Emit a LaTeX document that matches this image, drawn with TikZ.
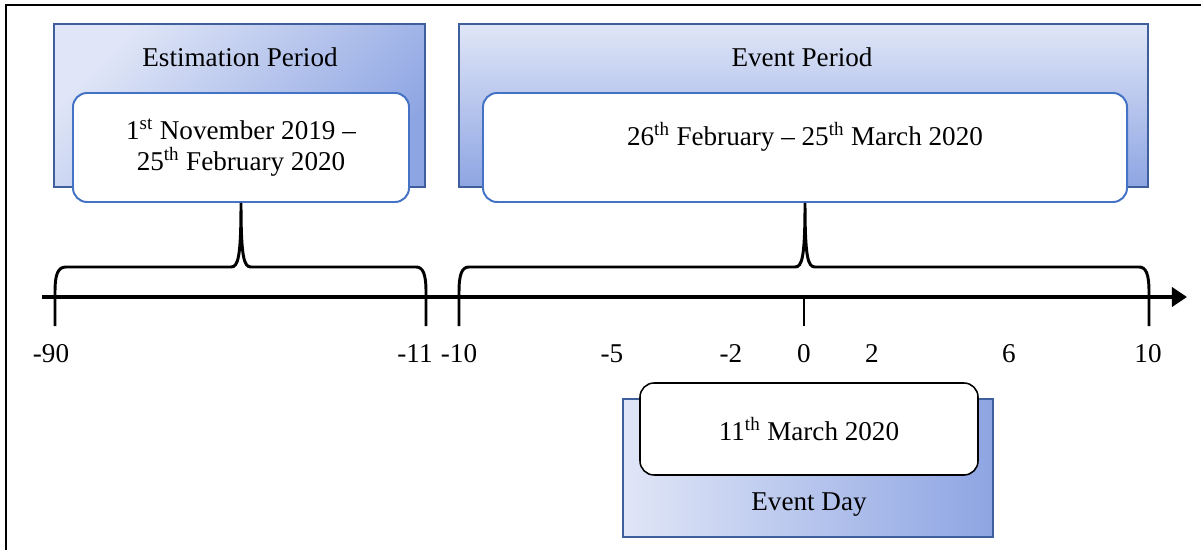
\documentclass[tikz,border=0pt]{standalone}
\usepackage{fontspec}
\setmainfont{Liberation Serif}
\usetikzlibrary{arrows.meta,calc,positioning}
\definecolor{boxlight}{HTML}{E0E6F7}
\definecolor{boxdark}{HTML}{8EA5E3}
\definecolor{boxedge}{HTML}{3F5E9C}
\definecolor{dateedge}{HTML}{4472C4}

\begin{document}
\begin{tikzpicture}[x=0.025cm,y=-0.025cm,
    every node/.style={font=\fontsize{19.3}{22}\selectfont},
    periodbox/.style={draw=boxedge, line width=1.4pt, inner sep=0pt},
    datebox/.style={draw=dateedge, fill=white, line width=1.4pt, rounded corners=10pt, inner sep=0pt, align=center},
    bracket/.style={line width=2.1pt},
    ticklabel/.style={anchor=base, inner sep=0pt}]
                \def\pw{0.025cm}
                \useasboundingbox (0,0) rectangle (1201,550);
                %Frame
                \draw[line width=1.5pt] (6,550) -- (6,5) -- (1201,5);
                %Estimation period
                \node[periodbox, top color=boxlight, bottom color=boxdark, shading angle=45,
                    minimum width=371*\pw, minimum height=163*\pw] (est) at (239.5,105.5) {};
                \node[anchor=base] (esttitle) at (240,67) {Estimation Period};
                \node[datebox, minimum width=336*\pw, minimum height=109*\pw] (estdate) at (241,147.5)
                    {1\textsuperscript{st} November 2019 --\\25\textsuperscript{th} February 2020};
                %Event period
                \node[periodbox, top color=boxlight, bottom color=boxdark,
                    minimum width=689*\pw, minimum height=163*\pw] (ev) at (803.5,105.5) {};
                \node[anchor=base] (evtitle) at (802,67) {Event Period};
                \node[datebox, minimum width=644*\pw, minimum height=109*\pw] (evdate) at (805,147.5) {};
                \node[anchor=base] (evdatetext) at (805,146)
                    {26\textsuperscript{th} February -- 25\textsuperscript{th} March 2020};
                %Event day
                \node[periodbox, left color=boxlight, right color=boxdark,
                    minimum width=370*\pw, minimum height=138*\pw] (day) at (808,468) {};
                \node[anchor=base] (daytitle) at (809,510) {Event Day};
                \node[datebox, draw=black, line width=1.1pt, minimum width=338*\pw, minimum height=92*\pw]
                    (daydate) at (809,429) {11\textsuperscript{th} March 2020};
                %Axis
                \coordinate (a0) at (42,297);
                \coordinate (a1) at (1187,297);
                \draw[line width=2.8pt, -{Triangle[length=10.7pt,width=13.5pt]}] (a0) -- (a1);
                \coordinate (t0) at (804,297);
                \draw[bracket] (t0) -- ++(0,29);
                %Braces
                \draw[bracket] (55,326) -- (55,292) .. controls (55,274) and (58,267) .. (66,267)
                    -- (231,267) .. controls (238,267) and (241,258) .. (estdate.south)
                    .. controls (241,258) and (244,267) .. (251,267)
                    -- (416,267) .. controls (423,267) and (426,274) .. (426,292) -- (426,326);
                \draw[bracket] (459,326) -- (459,292) .. controls (459,274) and (462,267) .. (469,267)
                    -- (795,267) .. controls (802,267) and (805,258) .. (evdate.south)
                    .. controls (805,258) and (808,267) .. (815,267)
                    -- (1139,267) .. controls (1146,267) and (1149,274) .. (1149,292) -- (1149,326);
                %Labels
                \foreach \x/\lab in {51/-90,415/-11,459/-10,612/-5,731/-2,804/0,872/2,1009/6,1148/10}
                    \node[ticklabel] (lbl\x) at (\x,362) {\lab};
            \end{tikzpicture}
\end{document}
